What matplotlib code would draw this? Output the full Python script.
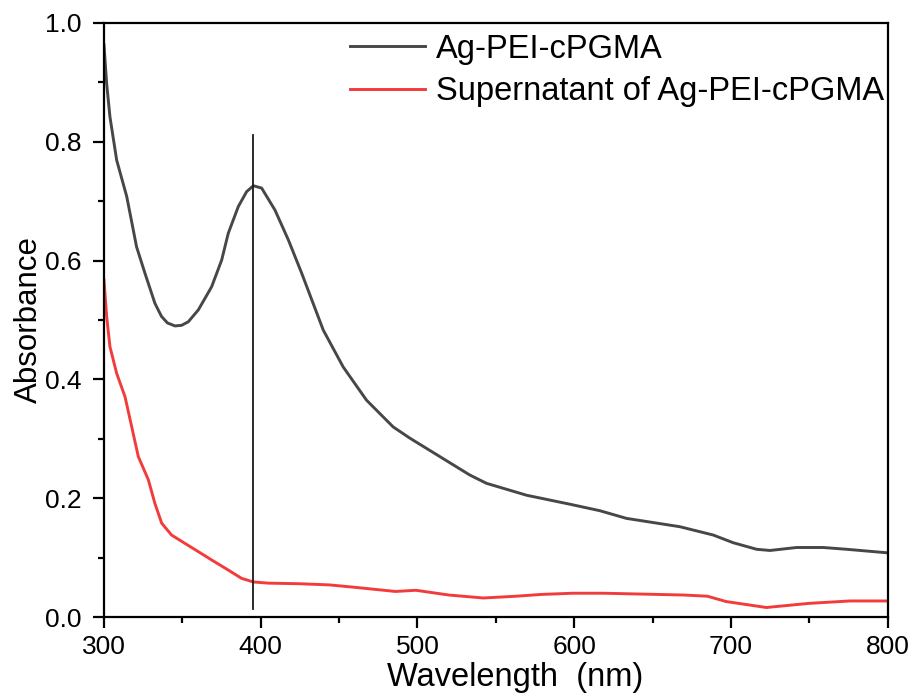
import matplotlib
matplotlib.use("Agg")
import matplotlib.pyplot as plt
from matplotlib.ticker import MultipleLocator, FormatStrFormatter

plt.rcParams['font.family'] = ['Liberation Sans', 'DejaVu Sans']

wl_black = [300, 301.7, 303.8, 308.1, 314.5, 320.8, 326.1, 332.5, 336.7, 340.5, 345.3,
            349.5, 353.8, 360.2, 368.7, 375.1, 379.3, 385.7, 391.0, 395.3, 400.6, 409.1,
            417.6, 426.1, 439.9, 452.6, 467.5, 484.5, 495.2, 514.3, 533.4, 544.1, 569.6,
            597.0, 616.3, 633.4, 667.4, 688.7, 701.5, 716.4, 724.9, 741.9, 758.9, 773.8,
            800]
abs_black = [0.963, 0.898, 0.842, 0.769, 0.708, 0.623, 0.579, 0.528, 0.506, 0.495, 0.490,
             0.491, 0.497, 0.517, 0.556, 0.601, 0.646, 0.691, 0.716, 0.726, 0.722, 0.685,
             0.635, 0.579, 0.483, 0.421, 0.365, 0.320, 0.301, 0.270, 0.239, 0.225, 0.205,
             0.190, 0.179, 0.166, 0.152, 0.138, 0.125, 0.114, 0.112, 0.117, 0.117, 0.114,
             0.108]

wl_red = [300, 301.7, 303.8, 308.1, 313.4, 317.7, 321.9, 328.3, 332.5, 336.8, 343.1,
          351.6, 360.2, 368.7, 379.3, 387.8, 395.3, 404.8, 425, 444, 460, 486, 499, 520,
          542, 563, 579, 599, 619, 670, 685, 697, 722.6, 750, 776, 800]
abs_red = [0.567, 0.506, 0.455, 0.410, 0.371, 0.320, 0.270, 0.231, 0.191, 0.158, 0.138,
           0.124, 0.110, 0.096, 0.079, 0.065, 0.059, 0.057, 0.056, 0.054, 0.050, 0.043,
           0.045, 0.037, 0.032, 0.035, 0.038, 0.040, 0.040, 0.037, 0.035, 0.026, 0.016,
           0.023, 0.027, 0.027]

peak_x = 395.3
peak_y_range = [0.013, 0.812]

labels = ["Ag-PEI-cPGMA", "Supernatant of Ag-PEI-cPGMA"]

fig = plt.figure(figsize=(9.17, 6.96), dpi=100)
ax = fig.add_axes([0.1134, 0.1135, 0.8546, 0.8535])

ax.plot(wl_black, abs_black, color='#474747', lw=2.1, label=labels[0])
ax.plot(wl_red, abs_red, color='#f23c3c', lw=2.1, label=labels[1])
ax.plot([peak_x, peak_x], peak_y_range, color='#1a1a1a', lw=1.3)

ax.set_xlim(300, 800)
ax.set_ylim(0, 1.0)
ax.xaxis.set_major_locator(MultipleLocator(100))
ax.xaxis.set_minor_locator(MultipleLocator(50))
ax.yaxis.set_major_locator(MultipleLocator(0.2))
ax.yaxis.set_minor_locator(MultipleLocator(0.1))
ax.yaxis.set_major_formatter(FormatStrFormatter('%.1f'))
ax.tick_params(which='both', direction='out', top=False, right=False, width=1.6)
ax.tick_params(which='major', length=8, labelsize=19)
ax.tick_params(axis='x', which='major', pad=5)
ax.tick_params(axis='y', which='major', pad=8)
ax.tick_params(which='minor', length=4.5)
for s in ax.spines.values():
    s.set_linewidth(1.6)

ax.set_xlabel("Wavelength  (nm)", fontsize=23.5, labelpad=2)
ax.xaxis.label.set_x(0.525)
ax.set_ylabel("Absorbance", fontsize=22.5, labelpad=1)

ax.legend(loc='upper left', frameon=False, fontsize=23.5, handlelength=2.3,
          handletextpad=0.34, labelspacing=0.35, borderaxespad=0.0, borderpad=0.0,
          bbox_to_anchor=(0.314, 0.982))

fig.savefig("out.png", dpi=100)
